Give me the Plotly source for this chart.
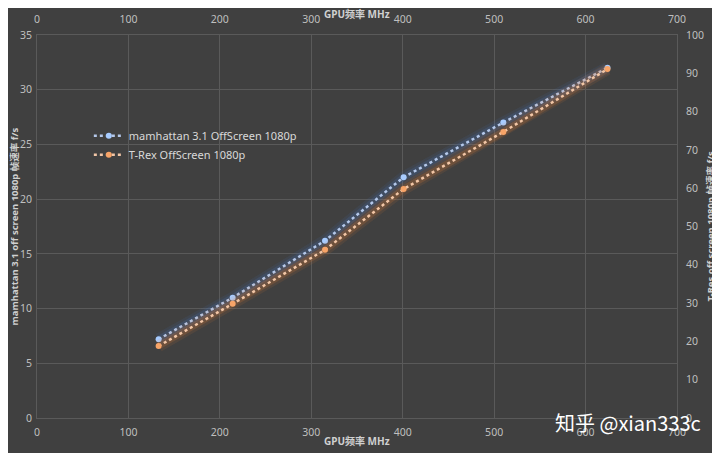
import plotly.graph_objects as go

freq = [133, 214, 315, 401, 510, 624]
manhattan = [7.2, 11.0, 16.2, 22.0, 27.0, 32.0]
trex = [18.8, 29.8, 43.9, 59.8, 74.7, 91.1]
name_m = "mamhattan 3.1 OffScreen 1080p"
name_t = "T-Rex OffScreen 1080p"
x_ticks = [0, 100, 200, 300, 400, 500, 600, 700]
left_ticks = [0, 5, 10, 15, 20, 25, 30, 35]
right_ticks = [0, 10, 20, 30, 40, 50, 60, 70, 80, 90, 100]

BG = "#404040"
GRID = "#5a5a5a"
TXT = "#bfbfbf"
FONT = "Noto Sans, Noto Sans CJK SC"

fig = go.Figure()
# soft glow layers
for w, a in [(12, 0.10), (7, 0.18)]:
    fig.add_trace(go.Scatter(x=freq, y=manhattan, mode="lines",
                             line=dict(color=f"rgba(68,114,196,{a})", width=w),
                             showlegend=False, hoverinfo="skip", xaxis="x", yaxis="y"))
    fig.add_trace(go.Scatter(x=freq, y=trex, mode="lines",
                             line=dict(color=f"rgba(237,125,49,{a})", width=w),
                             showlegend=False, hoverinfo="skip", xaxis="x2", yaxis="y2"))
fig.add_trace(go.Scatter(x=freq, y=manhattan, mode="lines+markers", name=name_m,
                         line=dict(color="#b4c8ea", width=2.5, dash="dot"),
                         marker=dict(color="#a8ccff", size=6),
                         xaxis="x", yaxis="y"))
fig.add_trace(go.Scatter(x=freq, y=trex, mode="lines+markers", name=name_t,
                         line=dict(color="#f2c6a6", width=2.5, dash="dot"),
                         marker=dict(color="#f7a468", size=6),
                         xaxis="x2", yaxis="y2"))

axis_common = dict(showline=True, linecolor=GRID, linewidth=1, ticks="", zeroline=False,
                   automargin=False, tickfont=dict(color=TXT, size=10.5, family=FONT))

fig.update_layout(
    width=720, height=453,
    paper_bgcolor=BG, plot_bgcolor=BG,
    margin=dict(l=29, r=51, t=27, b=43),
    font=dict(family=FONT, color=TXT),
    xaxis=dict(range=[0, 700], tickvals=x_ticks, showgrid=True, gridcolor=GRID, gridwidth=1,
               side="bottom", ticklabelstandoff=4, **axis_common),
    xaxis2=dict(range=[0, 700], tickvals=x_ticks, showgrid=False, side="top",
                overlaying="x", anchor="y", ticklabelstandoff=7, **axis_common),
    yaxis=dict(range=[0, 35], tickvals=left_ticks, showgrid=True, gridcolor=GRID, gridwidth=1,
               side="left", ticklabelstandoff=2, **axis_common),
    yaxis2=dict(range=[0, 100], tickvals=right_ticks, showgrid=False, side="right",
                overlaying="y", anchor="x", ticklabelstandoff=6, **axis_common),
    legend=dict(x=0.081, y=0.775, xanchor="left", yanchor="top", bgcolor="rgba(0,0,0,0)",
                font=dict(color="#d9d9d9", size=11, family=FONT), tracegroupgap=20,
                itemwidth=30),
    showlegend=True,
)

ann_font = dict(color="#d0d0d0", size=10, family=FONT)
side_font = dict(color="#d0d0d0", size=9.5, family=FONT)
fig.add_annotation(text="<b>GPU频率 MHz</b>", xref="paper", yref="paper", x=0.5, y=1,
                   yshift=21, yanchor="middle", showarrow=False, font=ann_font)
fig.add_annotation(text="<b>GPU频率 MHz</b>", xref="paper", yref="paper", x=0.5, y=0,
                   yshift=-23, yanchor="middle", showarrow=False, font=ann_font)
fig.add_annotation(text="<b>mamhattan 3.1 off screen 1080p 帧速率 f/s</b>", xref="paper", yref="paper",
                   x=0, y=0.5, xshift=-23, xanchor="center", textangle=-90, showarrow=False, font=side_font)
fig.add_annotation(text="<b>T-Res off screen 1080p 帧速率 f/s</b>", xref="paper", yref="paper",
                   x=1, y=0.5, xshift=33, xanchor="center", textangle=-90, showarrow=False, font=side_font)
fig.add_annotation(text="知乎 @xian333c", xref="paper", yref="paper", x=1, y=0,
                   xshift=26, yshift=-4, xanchor="right", yanchor="middle", showarrow=False,
                   font=dict(color="#ffffff", size=20, family="Noto Sans CJK SC"))

fig.write_html("out.html")
